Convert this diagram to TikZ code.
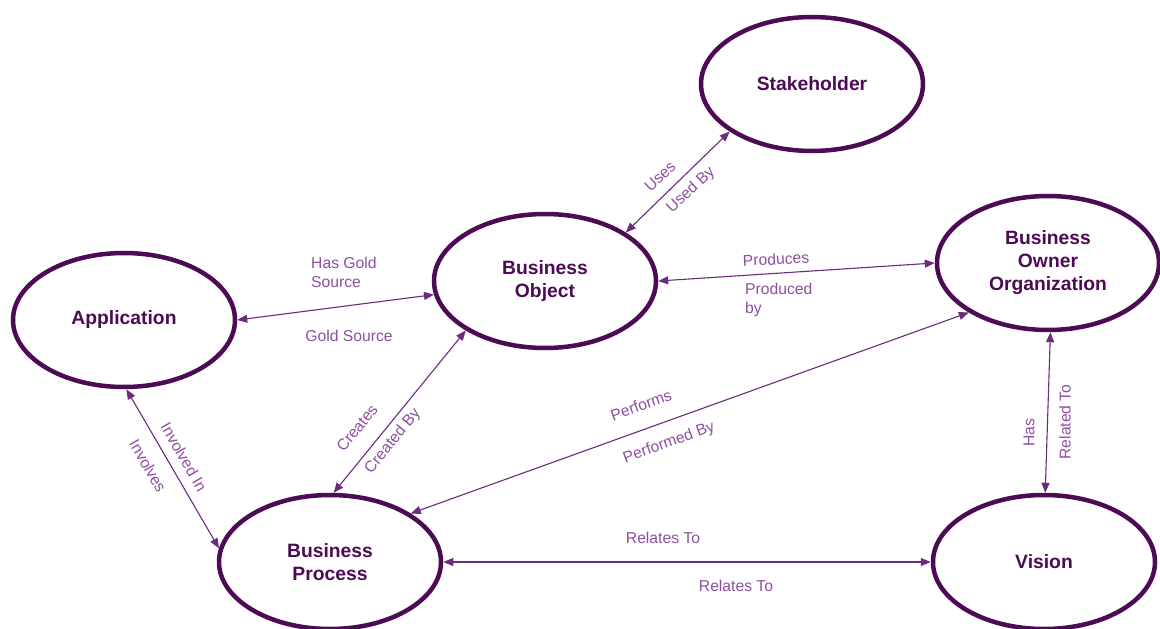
\documentclass[tikz,border=0pt]{standalone}
\usepackage{fontspec}
\setmainfont{Liberation Sans}
\usetikzlibrary{shapes.geometric,arrows.meta}
\definecolor{nodeborder}{HTML}{4E0B55}
\definecolor{linkc}{HTML}{6A2C7C}
\definecolor{labc}{HTML}{8F4FA0}
\begin{document}
\begin{tikzpicture}[x=1pt,y=-1pt,
  entity/.style={ellipse,draw=nodeborder,line width=4.5pt,minimum width=222pt,minimum height=134pt,inner sep=0pt,align=center,text=nodeborder,font=\fontsize{19.3}{23}\selectfont\bfseries},
  link/.style={draw=linkc,line width=1.1pt,{Triangle[length=10pt,width=8pt]}-{Triangle[length=10pt,width=8pt]}},
  lab/.style={text=labc,inner sep=0pt,align=left,font=\fontsize{15.7}{19}\selectfont}]
\useasboundingbox (0,0) rectangle (1160,629);
\clip (0,0) rectangle (1160,629);
\fill[white] (0,0) rectangle (1160,629);

\node[entity] (sh)  at (812,84)  {Stakeholder};
\node[entity] (bo)  at (545,281) {Business\\Object};
\node[entity] (boo) at (1048,263) {Business\\Owner\\Organization};
\node[entity] (app) at (124,320) {Application};
\node[entity] (bp)  at (330,562) {Business\\Process};
\node[entity] (vis) at (1044,562) {Vision};

\draw[link] (bo.31.5) -- (sh.210);
\draw[link] (app.0) -- (bo.187.4);
\draw[link] (bo.0) -- (boo.180);
\draw[link] (app.272) -- (bp.173);
\draw[link] (bp.87.5) -- (bo.212);
\draw[link] (bp.31) -- (boo.212.3);
\draw[link] (boo.272.4) -- (vis.89);
\draw[link] (bp.0) -- (vis.180);

\node[lab,rotate=43] (l1) at (660,176) {Uses};
\node[lab,rotate=43] (l2) at (691,190) {Used By};
\node[lab,anchor=west] (l3) at (311,272) {Has Gold\\Source};
\node[lab] (l4) at (349,336) {Gold Source};
\node[lab,rotate=3] (l5) at (776,259) {Produces};
\node[lab,anchor=west] (l6) at (745,300) {Produced\\by};
\node[lab,rotate=-60] (l7) at (184,457) {Involved In};
\node[lab,rotate=-60] (l8) at (148,466) {Involves};
\node[lab,rotate=51] (l9) at (357,428) {Creates};
\node[lab,rotate=51] (l10) at (393,441) {Created By};
\node[lab,rotate=20] (l11) at (641,405) {Performs};
\node[lab,rotate=20] (l12) at (669,443) {Performed By};
\node[lab,rotate=90] (l13) at (1029,433) {Has};
\node[lab,rotate=90] (l14) at (1065,422) {Related To};
\node[lab] (l15) at (663,538) {Relates To};
\node[lab] (l16) at (736,586) {Relates To};
\end{tikzpicture}
\end{document}
